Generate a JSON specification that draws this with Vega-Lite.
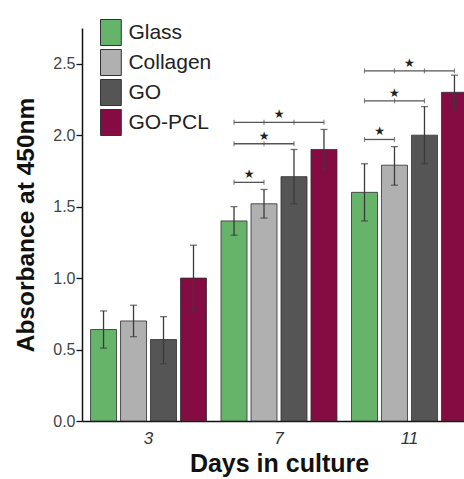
{
  "$schema": "https://vega.github.io/schema/vega-lite/v6.json",
  "width": 382,
  "height": 393,
  "autosize": {"type": "none"},
  "padding": {"left": 82, "top": 28, "right": 0, "bottom": 58},
  "background": "white",
  "config": {
    "view": {"stroke": null},
    "font": "Liberation Sans",
    "axis": {"domainColor": "#111", "domainWidth": 1.5, "grid": false}
  },
  "datasets": {
    "bars": [
      {"day": "3", "group": "Glass", "mean": 0.64, "lo": 0.51, "hi": 0.77},
      {"day": "3", "group": "Collagen", "mean": 0.70, "lo": 0.59, "hi": 0.81},
      {"day": "3", "group": "GO", "mean": 0.57, "lo": 0.40, "hi": 0.73},
      {"day": "3", "group": "GO-PCL", "mean": 1.00, "lo": 0.77, "hi": 1.23},
      {"day": "7", "group": "Glass", "mean": 1.40, "lo": 1.30, "hi": 1.50},
      {"day": "7", "group": "Collagen", "mean": 1.52, "lo": 1.42, "hi": 1.62},
      {"day": "7", "group": "GO", "mean": 1.71, "lo": 1.52, "hi": 1.90},
      {"day": "7", "group": "GO-PCL", "mean": 1.90, "lo": 1.76, "hi": 2.04},
      {"day": "11", "group": "Glass", "mean": 1.60, "lo": 1.40, "hi": 1.80},
      {"day": "11", "group": "Collagen", "mean": 1.79, "lo": 1.65, "hi": 1.92},
      {"day": "11", "group": "GO", "mean": 2.00, "lo": 1.80, "hi": 2.20},
      {"day": "11", "group": "GO-PCL", "mean": 2.30, "lo": 2.18, "hi": 2.42}
    ],
    "brackets": [
      {"id": "7a", "day": "7", "group": "Glass", "pos": 0, "level": 1.67},
      {"id": "7a", "day": "7", "group": "Collagen", "pos": 1, "level": 1.67},
      {"id": "7b", "day": "7", "group": "Glass", "pos": 0, "level": 1.94},
      {"id": "7b", "day": "7", "group": "Collagen", "pos": 1, "level": 1.94},
      {"id": "7b", "day": "7", "group": "GO", "pos": 2, "level": 1.94},
      {"id": "7c", "day": "7", "group": "Glass", "pos": 0, "level": 2.09},
      {"id": "7c", "day": "7", "group": "Collagen", "pos": 1, "level": 2.09},
      {"id": "7c", "day": "7", "group": "GO", "pos": 2, "level": 2.09},
      {"id": "7c", "day": "7", "group": "GO-PCL", "pos": 3, "level": 2.09},
      {"id": "11a", "day": "11", "group": "Glass", "pos": 0, "level": 1.97},
      {"id": "11a", "day": "11", "group": "Collagen", "pos": 1, "level": 1.97},
      {"id": "11b", "day": "11", "group": "Glass", "pos": 0, "level": 2.24},
      {"id": "11b", "day": "11", "group": "Collagen", "pos": 1, "level": 2.24},
      {"id": "11b", "day": "11", "group": "GO", "pos": 2, "level": 2.24},
      {"id": "11c", "day": "11", "group": "Glass", "pos": 0, "level": 2.45},
      {"id": "11c", "day": "11", "group": "Collagen", "pos": 1, "level": 2.45},
      {"id": "11c", "day": "11", "group": "GO", "pos": 2, "level": 2.45},
      {"id": "11c", "day": "11", "group": "GO-PCL", "pos": 3, "level": 2.45}
    ],
    "stars": [
      {"day": "7", "anchor": "Glass", "shift": true, "level": 1.67},
      {"day": "7", "anchor": "Collagen", "shift": false, "level": 1.94},
      {"day": "7", "anchor": "Collagen", "shift": true, "level": 2.09},
      {"day": "11", "anchor": "Glass", "shift": true, "level": 1.97},
      {"day": "11", "anchor": "Collagen", "shift": false, "level": 2.24},
      {"day": "11", "anchor": "Collagen", "shift": true, "level": 2.45}
    ]
  },
  "layer": [
    {
      "data": {"name": "bars"},
      "mark": {"type": "bar", "stroke": "#2e2e2e", "strokeWidth": 0.8},
      "encoding": {
        "x": {
          "field": "day", "type": "nominal", "sort": ["3", "7", "11"],
          "scale": {"domain": ["3", "7", "11"], "range": [0, 394], "paddingInner": 0.0805, "paddingOuter": 0.05},
          "axis": {
            "title": "Days in culture", "titleFontSize": 25, "titleFontWeight": "bold", "titleColor": "#111",
            "titlePadding": 5,
            "labelAngle": 0, "labelFontSize": 17, "labelFontStyle": "italic", "labelColor": "#333",
            "labelPadding": 9, "ticks": false
          }
        },
        "xOffset": {
          "field": "group", "type": "nominal",
          "scale": {"domain": ["Glass", "Collagen", "GO", "GO-PCL"], "paddingInner": 0.133, "paddingOuter": 0.067}
        },
        "y": {
          "field": "mean", "type": "quantitative",
          "scale": {"domain": [0, 2.75], "nice": false, "zero": true},
          "axis": {
            "title": "Absorbance at 450nm", "titleFontSize": 24.5, "titleFontWeight": "bold", "titleColor": "#111",
            "titlePadding": 14,
            "values": [0, 0.25, 0.5, 0.75, 1, 1.25, 1.5, 1.75, 2, 2.25, 2.5, 2.75],
            "labelExpr": "datum.value % 0.5 == 0 ? format(datum.value, '.1f') : ''",
            "labelFontSize": 16, "labelColor": "#444", "labelPadding": 1,
            "tickColor": "#111", "tickWidth": 1.3,
            "tickSize": {"condition": {"test": "datum.value % 0.5 != 0", "value": 3}, "value": 6}
          }
        },
        "color": {
          "field": "group", "type": "nominal",
          "scale": {"domain": ["Glass", "Collagen", "GO", "GO-PCL"], "range": ["#66b36a", "#b0b0b0", "#555555", "#850c43"]},
          "legend": {
            "orient": "none", "legendX": 15.4, "legendY": -9, "title": null, "padding": 0,
            "symbolType": "M-0.8,-1H0.8V1H-0.8Z", "symbolSize": 676,
            "symbolStrokeColor": "#333", "symbolStrokeWidth": 1,
            "labelFontSize": 21, "labelColor": "#222", "labelOffset": 4, "rowPadding": -1
          }
        }
      }
    },
    {
      "data": {"name": "bars"},
      "mark": {"type": "rule", "color": "#3a3a3a", "strokeWidth": 1.3},
      "encoding": {
        "x": {"field": "day", "type": "nominal", "sort": ["3", "7", "11"]},
        "xOffset": {"field": "group", "type": "nominal"},
        "y": {"field": "lo", "type": "quantitative"},
        "y2": {"field": "hi"}
      }
    },
    {
      "data": {"name": "bars"},
      "mark": {"type": "tick", "color": "#3a3a3a", "thickness": 1.3, "size": 7, "orient": "horizontal"},
      "encoding": {
        "x": {"field": "day", "type": "nominal", "sort": ["3", "7", "11"]},
        "xOffset": {"field": "group", "type": "nominal"},
        "y": {"field": "lo", "type": "quantitative"}
      }
    },
    {
      "data": {"name": "bars"},
      "mark": {"type": "tick", "color": "#3a3a3a", "thickness": 1.3, "size": 7, "orient": "horizontal"},
      "encoding": {
        "x": {"field": "day", "type": "nominal", "sort": ["3", "7", "11"]},
        "xOffset": {"field": "group", "type": "nominal"},
        "y": {"field": "hi", "type": "quantitative"}
      }
    },
    {
      "data": {"name": "brackets"},
      "mark": {"type": "line", "color": "#555", "strokeWidth": 1.3},
      "encoding": {
        "x": {"field": "day", "type": "nominal", "sort": ["3", "7", "11"]},
        "xOffset": {"field": "group", "type": "nominal"},
        "y": {"field": "level", "type": "quantitative"},
        "detail": {"field": "id"},
        "order": {"field": "pos"}
      }
    },
    {
      "data": {"name": "brackets"},
      "mark": {"type": "tick", "color": "#555", "thickness": 1.2, "size": 5, "orient": "vertical"},
      "encoding": {
        "x": {"field": "day", "type": "nominal", "sort": ["3", "7", "11"]},
        "xOffset": {"field": "group", "type": "nominal"},
        "y": {"field": "level", "type": "quantitative"}
      }
    },
    {
      "data": {"name": "stars"},
      "transform": [{"filter": "datum.shift"}],
      "mark": {"type": "text", "text": "★", "font": "DejaVu Sans", "fontSize": 12, "color": "#222", "dx": 15, "dy": -8, "baseline": "middle"},
      "encoding": {
        "x": {"field": "day", "type": "nominal", "sort": ["3", "7", "11"]},
        "xOffset": {"field": "anchor", "type": "nominal"},
        "y": {"field": "level", "type": "quantitative"}
      }
    },
    {
      "data": {"name": "stars"},
      "transform": [{"filter": "!datum.shift"}],
      "mark": {"type": "text", "text": "★", "font": "DejaVu Sans", "fontSize": 12, "color": "#222", "dx": 0, "dy": -8, "baseline": "middle"},
      "encoding": {
        "x": {"field": "day", "type": "nominal", "sort": ["3", "7", "11"]},
        "xOffset": {"field": "anchor", "type": "nominal"},
        "y": {"field": "level", "type": "quantitative"}
      }
    }
  ]
}
